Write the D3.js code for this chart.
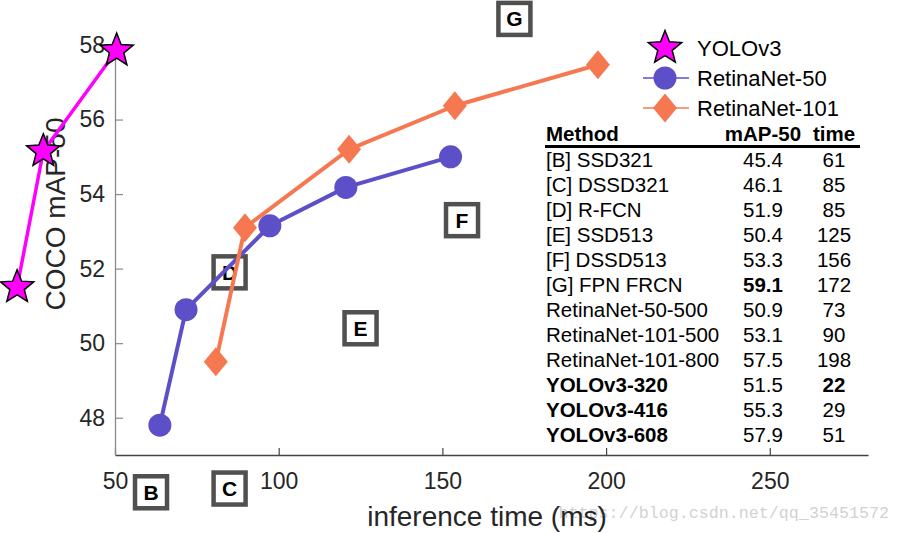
<!DOCTYPE html>
<html>
<head>
<meta charset="utf-8">
<script src="https://cdn.jsdelivr.net/npm/d3@7"></script>
<style>
  html, body { margin: 0; padding: 0; background: #fff; }
  svg { display: block; font-family: "Liberation Sans", Arial, Helvetica, sans-serif; }
</style>
</head>
<body>
<svg id="chart" width="901" height="533"></svg>
<script>
// ---------------- data ----------------
const xTicks = [50, 100, 150, 200, 250];
const yTicks = [48, 50, 52, 54, 56, 58];

const yoloTime = [20.1, 28.1, 50.5];
const yoloMap  = [51.5, 55.15, 57.85];

const r50Time = [63.7, 71.7, 97.3, 120.5, 152.5];
const r50Map  = [47.8, 50.9, 53.15, 54.18, 55.0];

const r101Time = [80.8, 89.7, 121.5, 153.8, 197.5];
const r101Map  = [49.5, 53.1, 55.2, 56.37, 57.47];

const boxLabels = ["B", "C", "D", "E", "F", "G"];
const boxTime   = [61, 85, 85, 125, 156, 172];
const boxMap    = [45.4, 46.1, 51.9, 50.4, 53.3, 59.1];
const boxMin = 46.0, boxMax = 58.7;   // off-axis boxes are pinned to the chart edges

const legendNames = ["YOLOv3", "RetinaNet-50", "RetinaNet-101"];

const tableHeader = ["Method", "mAP-50", "time"];
const tableMethods = ["[B] SSD321", "[C] DSSD321", "[D] R-FCN", "[E] SSD513", "[F] DSSD513",
  "[G] FPN FRCN", "RetinaNet-50-500", "RetinaNet-101-500", "RetinaNet-101-800",
  "YOLOv3-320", "YOLOv3-416", "YOLOv3-608"];
const tableMap  = ["45.4", "46.1", "51.9", "50.4", "53.3", "59.1", "50.9", "53.1", "57.5", "51.5", "55.3", "57.9"];
const tableTime = ["61", "85", "85", "125", "156", "172", "73", "90", "198", "22", "29", "51"];
const boldMethod = [false, false, false, false, false, false, false, false, false, true, true, true];
const boldMap    = [false, false, false, false, false, true, false, false, false, false, false, false];
const boldTime   = [false, false, false, false, false, false, false, false, false, true, false, false];

const watermark = "https://blog.csdn.net/qq_35451572";

// ---------------- styling ----------------
const C_YOLO = "#ff00ff", C_R50 = "#5c4fc8", C_R101 = "#f67850";

const svg = d3.select("#chart");
svg.append("rect").attr("width", 901).attr("height", 533).attr("fill", "#fff");

const x = d3.scaleLinear().domain([50, 280]).range([115, 868]);
const y = d3.scaleLinear().domain([47, 58]).range([455, 45]);

// watermark (behind)
svg.append("text")
  .attr("x", 889).attr("y", 518)
  .attr("text-anchor", "end")
  .attr("font-family", "'Liberation Mono', 'DejaVu Sans Mono', monospace")
  .attr("font-size", 16.7)
  .attr("fill", "#d2d2d2")
  .text(watermark);

// axes
const xAxis = d3.axisBottom(x).tickValues(xTicks).tickSizeInner(-7).tickSizeOuter(0).tickPadding(18)
  .tickFormat(d3.format("d"));
const gx = svg.append("g").attr("transform", `translate(0,${y.range()[0]})`).call(xAxis);
gx.select(".domain").attr("stroke", "#444").attr("stroke-width", 1.3);
gx.selectAll(".tick line").attr("stroke", "#444").attr("stroke-width", 1.2);
gx.selectAll(".tick text").attr("font-size", 23).attr("fill", "#262626")
  .attr("font-family", "'Liberation Sans', Arial, sans-serif");

const yAxis = d3.axisLeft(y).tickValues(yTicks).tickSizeInner(-8).tickSizeOuter(0).tickPadding(10)
  .tickFormat(d3.format("d"));
const gy = svg.append("g").attr("transform", `translate(${x.range()[0]},0)`).call(yAxis);
gy.select(".domain").attr("stroke", "#8a8a8a").attr("stroke-width", 1.3);
gy.selectAll(".tick line").attr("stroke", "#8a8a8a").attr("stroke-width", 1.2);
gy.selectAll(".tick text").attr("font-size", 23).attr("fill", "#262626")
  .attr("font-family", "'Liberation Sans', Arial, sans-serif");

// axis titles
svg.append("text")
  .attr("x", 487).attr("y", 526)
  .attr("text-anchor", "middle")
  .attr("font-size", 28).attr("fill", "#262626")
  .text("inference time (ms)");
svg.append("text")
  .attr("transform", "translate(65,214) rotate(-90)")
  .attr("text-anchor", "middle")
  .attr("font-size", 28).attr("fill", "#262626")
  .text("COCO mAP-50");

// letter boxes (drawn under lines)
const boxes = svg.append("g");
boxLabels.forEach((lab, i) => {
  const cx = x(boxTime[i]);
  const cy = y(Math.max(boxMin, Math.min(boxMax, boxMap[i])));
  boxes.append("rect")
    .attr("x", cx - 16).attr("y", cy - 16).attr("width", 32).attr("height", 32)
    .attr("fill", "#fff").attr("stroke", "#505050").attr("stroke-width", 4.5);
  boxes.append("text")
    .attr("x", cx).attr("y", cy + 7.5)
    .attr("text-anchor", "middle")
    .attr("font-weight", "bold").attr("font-size", 21).attr("fill", "#000")
    .text(lab);
});

// helpers
function starPath(R, r) {
  const pts = [];
  for (let k = 0; k < 10; k++) {
    const a = -Math.PI / 2 + k * Math.PI / 5;
    const rad = k % 2 === 0 ? R : r;
    pts.push([rad * Math.cos(a), rad * Math.sin(a)]);
  }
  return "M" + pts.map(p => p.join(",")).join("L") + "Z";
}
const STAR = starPath(17.5, 7.6);
const DIAMOND = "M0,-14.5L12,0L0,14.5L-12,0Z";

const line = d3.line().x(d => x(d[0])).y(d => y(d[1]));

// series
const r50 = d3.zip(r50Time, r50Map);
const r101 = d3.zip(r101Time, r101Map);
const yolo = d3.zip(yoloTime, yoloMap);

svg.append("path").datum(r50).attr("d", line)
  .attr("fill", "none").attr("stroke", C_R50).attr("stroke-width", 4).attr("stroke-linejoin", "round");
svg.append("g").selectAll("circle").data(r50).join("circle")
  .attr("cx", d => x(d[0])).attr("cy", d => y(d[1])).attr("r", 11.5).attr("fill", C_R50);

svg.append("path").datum(r101).attr("d", line)
  .attr("fill", "none").attr("stroke", C_R101).attr("stroke-width", 4).attr("stroke-linejoin", "round");
svg.append("g").selectAll("path").data(r101).join("path")
  .attr("d", DIAMOND)
  .attr("transform", d => `translate(${x(d[0])},${y(d[1])})`).attr("fill", C_R101);

svg.append("path").datum(yolo).attr("d", line)
  .attr("fill", "none").attr("stroke", C_YOLO).attr("stroke-width", 3.5).attr("stroke-linejoin", "round");
svg.append("g").selectAll("path").data(yolo).join("path")
  .attr("d", STAR)
  .attr("transform", d => `translate(${x(d[0])},${y(d[1])})`)
  .attr("fill", C_YOLO).attr("stroke", "#000").attr("stroke-width", 1.5).attr("stroke-linejoin", "miter");

// legend
const leg = svg.append("g");
const legY = d3.scalePoint().domain(legendNames).range([48, 108]);
const legX = 665;
leg.append("path").attr("d", STAR).attr("transform", `translate(${legX},${legY(legendNames[0])})`)
  .attr("fill", C_YOLO).attr("stroke", "#000").attr("stroke-width", 1.5);
leg.append("line").attr("x1", legX - 22).attr("x2", legX + 24)
  .attr("y1", legY(legendNames[1])).attr("y2", legY(legendNames[1]))
  .attr("stroke", C_R50).attr("stroke-width", 1.5);
leg.append("circle").attr("cx", legX).attr("cy", legY(legendNames[1])).attr("r", 11.5).attr("fill", C_R50);
leg.append("line").attr("x1", legX - 22).attr("x2", legX + 24)
  .attr("y1", legY(legendNames[2])).attr("y2", legY(legendNames[2]))
  .attr("stroke", C_R101).attr("stroke-width", 1.5);
leg.append("path").attr("d", DIAMOND).attr("transform", `translate(${legX},${legY(legendNames[2])})`)
  .attr("fill", C_R101);
leg.selectAll("text.l").data(legendNames).join("text")
  .attr("x", 697).attr("y", d => legY(d) + 8)
  .attr("font-size", 22).attr("fill", "#000")
  .text(d => d);

// table
const tbl = svg.append("g").attr("font-size", 20.5).attr("fill", "#000");
const colMethod = 546, colMap = 763, colTime = 834;
tbl.append("text").attr("x", colMethod).attr("y", 141).attr("font-weight", "bold").text(tableHeader[0]);
tbl.append("text").attr("x", colMap).attr("y", 141).attr("text-anchor", "middle").attr("font-weight", "bold").text(tableHeader[1]);
tbl.append("text").attr("x", colTime).attr("y", 141).attr("text-anchor", "middle").attr("font-weight", "bold").text(tableHeader[2]);
tbl.append("line").attr("x1", 545).attr("x2", 860).attr("y1", 146.5).attr("y2", 146.5)
  .attr("stroke", "#000").attr("stroke-width", 2.8);

const rowY = d3.scalePoint().domain(d3.range(tableMethods.length)).range([159, 434]);
tableMethods.forEach((m, i) => {
  const by = rowY(i) + 7.5;
  tbl.append("text").attr("x", colMethod).attr("y", by)
    .attr("font-weight", boldMethod[i] ? "bold" : "normal").text(m);
  tbl.append("text").attr("x", colMap).attr("y", by).attr("text-anchor", "middle")
    .attr("font-weight", boldMap[i] ? "bold" : "normal").text(tableMap[i]);
  tbl.append("text").attr("x", colTime).attr("y", by).attr("text-anchor", "middle")
    .attr("font-weight", boldTime[i] ? "bold" : "normal").text(tableTime[i]);
});
</script>
</body>
</html>
